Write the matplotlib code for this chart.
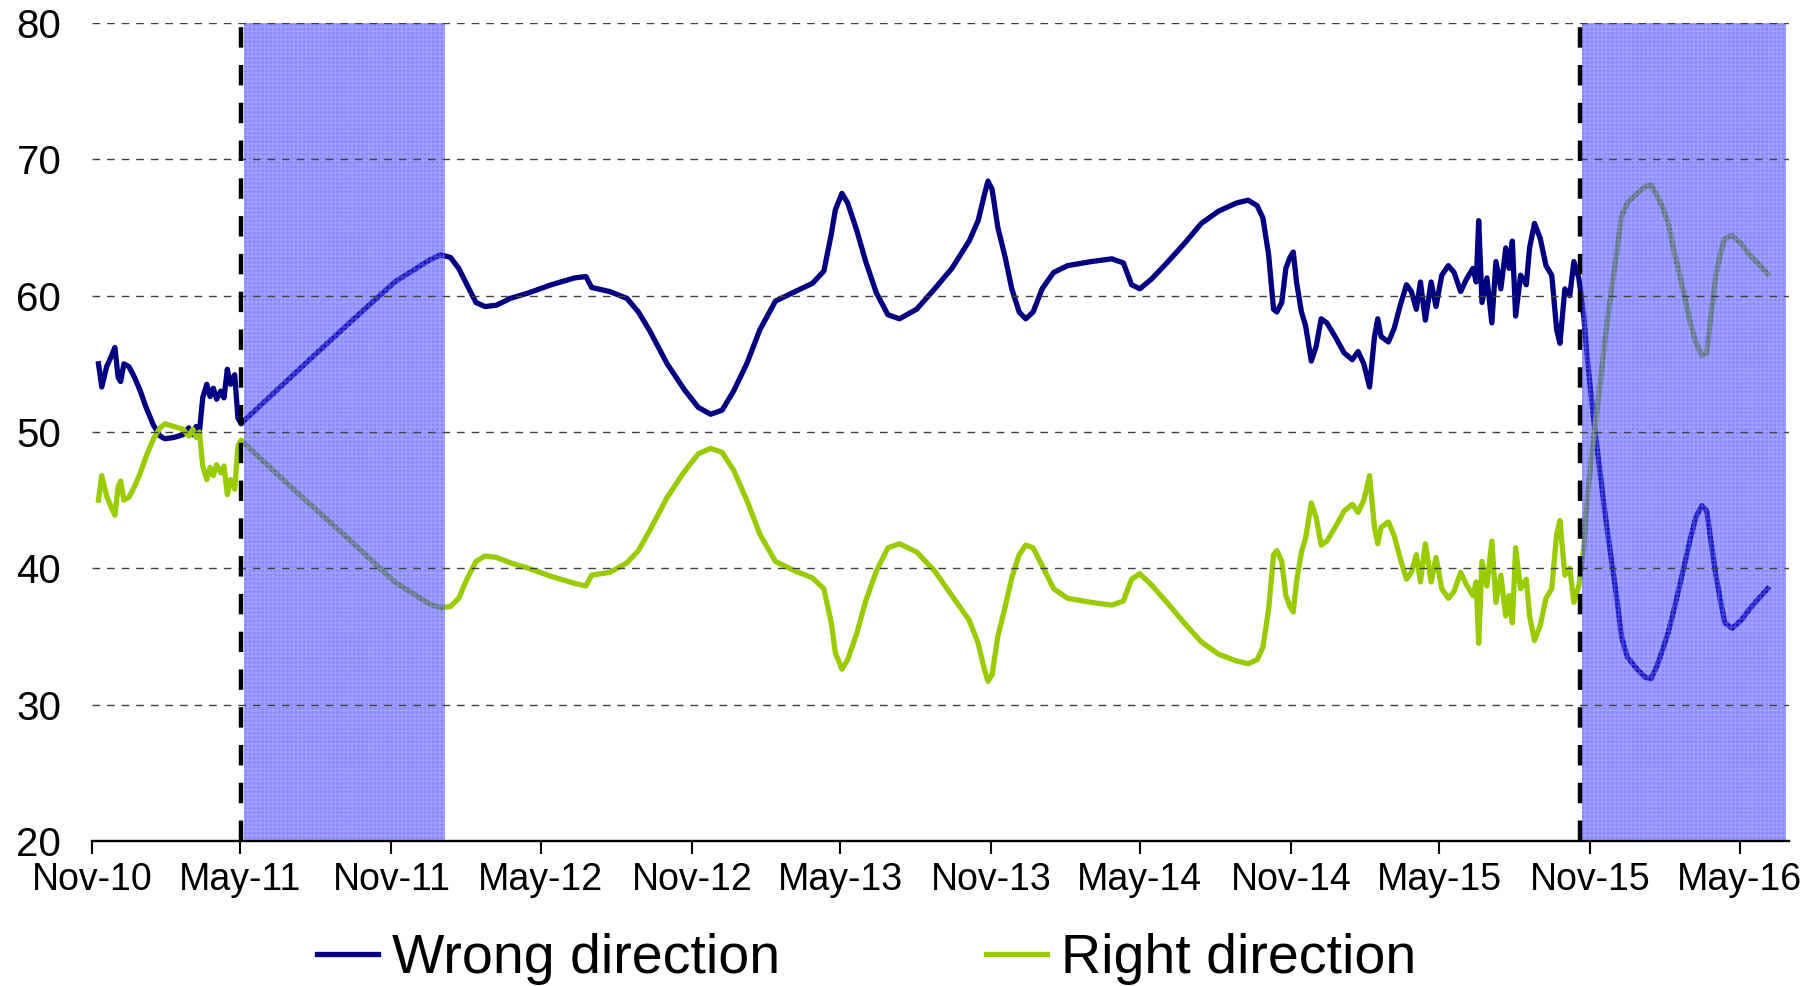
import pandas as pd
import matplotlib.pyplot as plt
import matplotlib.dates as mdates

# poll dates
dates = [
    '2010-11-09', '2010-11-13', '2010-11-19', '2010-11-25', '2010-11-29', '2010-12-03', '2010-12-06',
    '2010-12-10', '2010-12-16', '2010-12-23', '2010-12-30', '2011-01-06', '2011-01-15', '2011-01-23',
    '2011-01-29', '2011-02-09', '2011-02-20', '2011-02-27', '2011-03-04', '2011-03-08', '2011-03-12',
    '2011-03-16', '2011-03-21', '2011-03-25', '2011-03-29', '2011-04-02', '2011-04-07', '2011-04-11',
    '2011-04-15', '2011-04-19', '2011-04-24', '2011-04-28', '2011-05-02',
    '2011-05-05', '2011-07-01', '2011-09-09', '2011-11-05', '2011-12-17', '2011-12-31', '2012-01-12',
    '2012-01-22', '2012-02-01', '2012-02-12', '2012-02-23', '2012-03-08', '2012-03-25', '2012-04-16',
    '2012-05-14', '2012-06-11', '2012-06-25', '2012-07-02', '2012-07-24', '2012-08-14', '2012-08-28',
    '2012-09-11', '2012-10-02', '2012-10-23', '2012-11-09', '2012-11-24', '2012-12-08', '2012-12-22',
    '2013-01-07', '2013-01-23', '2013-02-11', '2013-03-07', '2013-03-28', '2013-04-11', '2013-04-20',
    '2013-04-25', '2013-05-03', '2013-05-10', '2013-05-21', '2013-06-01', '2013-06-14', '2013-06-28',
    '2013-07-12', '2013-08-02', '2013-08-24', '2013-09-14', '2013-10-05', '2013-10-16', '2013-10-24',
    '2013-10-28', '2013-11-02', '2013-11-09', '2013-11-18', '2013-11-26', '2013-12-05', '2013-12-13',
    '2013-12-22', '2014-01-02', '2014-01-16', '2014-02-02', '2014-03-03', '2014-03-28', '2014-04-11',
    '2014-04-21', '2014-05-01', '2014-05-15', '2014-06-03', '2014-06-24', '2014-07-15', '2014-08-05',
    '2014-08-27', '2014-09-10', '2014-09-21', '2014-09-28', '2014-10-05', '2014-10-11', '2014-10-15',
    '2014-10-21', '2014-10-26', '2014-10-31', '2014-11-04', '2014-11-08', '2014-11-14', '2014-11-19',
    '2014-11-26', '2014-12-02', '2014-12-08', '2014-12-15', '2014-12-25', '2015-01-05', '2015-01-15',
    '2015-01-22', '2015-01-29', '2015-02-05', '2015-02-11', '2015-02-15', '2015-02-19', '2015-02-28',
    '2015-03-07', '2015-03-14', '2015-03-22', '2015-03-28', '2015-04-03', '2015-04-08', '2015-04-14',
    '2015-04-21', '2015-04-27', '2015-05-04', '2015-05-12', '2015-05-19', '2015-05-27', '2015-06-03',
    '2015-06-11', '2015-06-15', '2015-06-18', '2015-06-22', '2015-06-28', '2015-07-04', '2015-07-09',
    '2015-07-15', '2015-07-21', '2015-07-25', '2015-07-29', '2015-08-02', '2015-08-08', '2015-08-15',
    '2015-08-19', '2015-08-25', '2015-09-01', '2015-09-08', '2015-09-15', '2015-09-21', '2015-09-25',
    '2015-10-01', '2015-10-07', '2015-10-12', '2015-10-18',
    '2015-10-24', '2015-10-29', '2015-11-05', '2015-11-12', '2015-11-19', '2015-11-27', '2015-12-04',
    '2015-12-09', '2015-12-16', '2015-12-28', '2016-01-07', '2016-01-14', '2016-01-21', '2016-01-28',
    '2016-02-04', '2016-02-12', '2016-02-22', '2016-03-02', '2016-03-09', '2016-03-16', '2016-03-22',
    '2016-03-27', '2016-04-02', '2016-04-08', '2016-04-13', '2016-04-22', '2016-05-03', '2016-05-13',
    '2016-05-23', '2016-06-04',
]

wrong = [
    55.0, 53.3, 54.8, 55.6, 56.2, 54.0, 53.7, 55.0, 54.8, 54.0, 53.0, 51.8, 50.5, 49.7, 49.5, 49.6,
    49.8, 50.3, 49.8, 50.4, 50.0, 52.5, 53.5, 52.6, 53.2, 52.4, 53.0, 52.5, 54.6, 53.5, 54.2, 51.0, 50.6,
    50.8, 54.0, 57.9, 61.0, 62.6, 63.0, 62.8, 62.0, 60.8, 59.5, 59.2, 59.3, 59.8, 60.2, 60.8, 61.3,
    61.4, 60.6, 60.3, 59.8, 58.8, 57.4, 55.0, 53.1, 51.8, 51.3, 51.6, 53.0, 55.0, 57.5, 59.6, 60.3,
    60.9, 61.8, 64.5, 66.3, 67.5, 66.8, 64.8, 62.5, 60.2, 58.6, 58.3, 59.0, 60.5, 62.0, 64.0, 65.5,
    67.5, 68.4, 67.8, 65.0, 62.8, 60.5, 58.8, 58.3, 58.8, 60.5, 61.7, 62.2, 62.5, 62.7, 62.4, 60.8,
    60.5, 61.2, 62.4, 63.8, 65.3, 66.2, 66.8, 67.0, 66.6, 65.7, 63.0, 59.0, 58.8, 59.5, 62.0, 62.8,
    63.2, 61.0, 58.8, 57.8, 55.2, 56.3, 58.3, 58.0, 57.0, 55.8, 55.3, 55.9, 55.0, 53.3, 57.0, 58.3,
    57.0, 56.6, 57.6, 59.2, 60.8, 60.3, 59.0, 61.0, 58.2, 61.0, 59.2, 61.5, 62.2, 61.7, 60.3, 61.2,
    62.0, 61.0, 65.5, 59.5, 61.3, 58.0, 62.5, 60.5, 63.5, 62.0, 64.0, 58.5, 61.5, 60.8, 63.5, 65.3,
    64.2, 62.2, 61.5, 57.5, 56.5, 60.5, 60.0, 62.5, 61.3,
    58.5, 55.0, 51.0, 47.5, 44.0, 40.5, 37.5, 35.0, 33.5, 32.6, 32.0, 31.9, 32.8, 34.0, 35.3, 37.2,
    39.8, 42.2, 43.8, 44.6, 44.2, 42.0, 39.5, 37.5, 36.0, 35.6, 36.2, 37.0, 37.7, 38.5,
]

right = [
    45.0, 46.8, 45.3, 44.4, 43.9, 46.0, 46.4, 45.0, 45.2, 46.0, 47.0, 48.2, 49.5, 50.3, 50.6, 50.4,
    50.2, 49.7, 50.2, 49.6, 50.0, 47.5, 46.5, 47.4, 46.8, 47.6, 47.0, 47.5, 45.4, 46.5, 45.8, 49.0, 49.4,
    49.2, 46.0, 42.2, 39.0, 37.4, 37.1, 37.2, 37.8, 39.2, 40.5, 40.9, 40.8, 40.4, 40.0, 39.4, 38.9,
    38.7, 39.5, 39.7, 40.4, 41.3, 42.8, 45.2, 47.1, 48.4, 48.8, 48.5, 47.2, 45.0, 42.5, 40.5, 39.8,
    39.3, 38.5, 36.0, 33.8, 32.6, 33.3, 35.2, 37.6, 39.8, 41.5, 41.8, 41.2, 39.8, 38.0, 36.2, 34.5,
    32.5, 31.7, 32.2, 35.0, 37.2, 39.3, 41.0, 41.7, 41.5, 40.2, 38.5, 37.8, 37.5, 37.3, 37.6, 39.2,
    39.6, 38.8, 37.5, 36.0, 34.6, 33.7, 33.2, 33.0, 33.3, 34.2, 37.0, 41.0, 41.3, 40.5, 38.0, 37.2,
    36.8, 39.0, 41.2, 42.2, 44.8, 43.7, 41.7, 42.0, 43.0, 44.2, 44.7, 44.1, 45.0, 46.8, 43.0, 41.8,
    43.0, 43.4, 42.4, 40.8, 39.2, 39.7, 41.0, 39.0, 41.8, 39.0, 40.8, 38.5, 37.8, 38.3, 39.7, 38.8,
    38.0, 39.0, 34.5, 40.5, 38.7, 42.0, 37.5, 39.5, 36.5, 38.0, 36.0, 41.5, 38.5, 39.2, 36.5, 34.7,
    35.8, 37.8, 38.5, 42.5, 43.5, 39.5, 40.0, 37.5, 38.7,
    41.5, 45.5, 49.5, 53.0, 56.8, 60.5, 63.5, 65.8, 66.8, 67.5, 68.0, 68.1, 67.4, 66.5, 65.3, 63.0,
    60.5, 58.0, 56.5, 55.6, 55.8, 58.5, 61.5, 63.2, 64.2, 64.4, 63.8, 63.0, 62.4, 61.6,
]

elections = ['2011-05-02', '2015-10-19']
shaded = [('2011-05-05', '2012-01-05'), ('2015-10-22', '2016-06-27')]

dates = pd.to_datetime(dates)
plt.rcParams['font.family'] = ['Liberation Sans', 'DejaVu Sans']
plt.rcParams['hatch.linewidth'] = 1.0

fig = plt.figure(figsize=(18.2, 9.86), dpi=100)
ax = fig.add_axes([0.0505, 0.1471, 0.9324, 0.8296])

ax.plot(dates, wrong, color='#000080', lw=3.8, zorder=1.8, label='Wrong direction')
ax.plot(dates, right, color='#99CC00', lw=3.8, zorder=1.8, label='Right direction')

for start, end in shaded:
    ax.axvspan(pd.Timestamp(start), pd.Timestamp(end), facecolor=(0.15, 0.15, 1.0, 0.55),
               edgecolor=(1, 1, 1, 0.22), hatch='++++', lw=0, zorder=2.2)
for d in elections:
    ax.axvline(pd.Timestamp(d), color='black', lw=3.2, linestyle=(0, (4.6, 3.9)), zorder=3)

ax.set_xlim(pd.Timestamp('2010-11-01'), pd.Timestamp('2016-06-30'))
ax.set_ylim(20, 80)
ax.set_yticks(range(20, 81, 10))

ax.xaxis.set_major_locator(mdates.MonthLocator(bymonth=[5, 11]))
ax.xaxis.set_major_formatter(mdates.DateFormatter('%b-%y'))

ax.set_axisbelow(False)
ax.grid(axis='y', color='#404040', lw=1, linestyle=(0, (5.5, 5)))
for s in ['top', 'right', 'left']:
    ax.spines[s].set_visible(False)
ax.spines['bottom'].set_linewidth(1.7)
ax.spines['bottom'].set_zorder(3.5)

ax.tick_params(axis='x', labelsize=27, length=9.4, width=1.5, direction='out', pad=6)
ax.tick_params(axis='y', labelsize=29, length=0, pad=22)

fig.legend(loc='center', bbox_to_anchor=(0.476, 0.027), ncol=2, frameon=False, fontsize=40,
           handlelength=1.1, handletextpad=0.25, columnspacing=3.7)

fig.savefig('out.png', dpi=100)
